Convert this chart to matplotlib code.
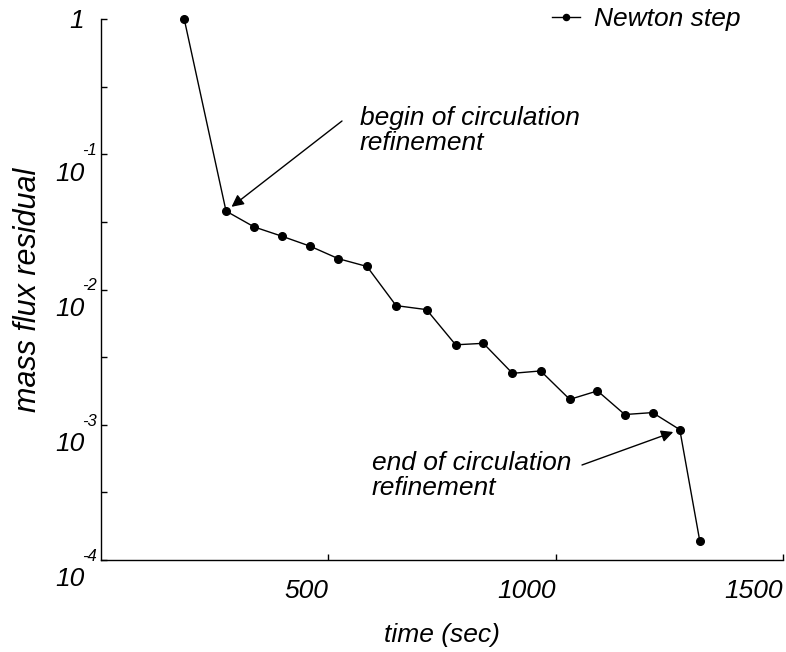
import numpy as np
import matplotlib
matplotlib.use('Agg')
import matplotlib.pyplot as plt
from matplotlib.ticker import FixedLocator, FuncFormatter, NullFormatter
from matplotlib.transforms import ScaledTranslation, blended_transform_factory

# residual after each Newton step
time_sec = [183, 275, 337, 399, 460, 522, 585, 649, 716, 780,
            841, 905, 967, 1031, 1092, 1152, 1213, 1273, 1317]
residual = [1.0, 0.038, 0.029, 0.0247, 0.0209, 0.0169, 0.0148, 0.0076, 0.0071, 0.0039,
            0.0040, 0.0024, 0.0025, 0.00154, 0.00178, 0.00119, 0.00123, 0.00092, 0.000138]

x_ticks = [500, 1000, 1500]
y_ticks = [1e-4, 1e-3, 1e-2, 1e-1, 1]
y_minor = [10 ** -3.5, 10 ** -2.5, 10 ** -1.5, 10 ** -0.5]

plt.rcParams['font.family'] = ['Liberation Sans', 'DejaVu Sans']
plt.rcParams['font.style'] = 'italic'
plt.rcParams['font.size'] = 19

fig = plt.figure(figsize=(7.86, 6.52), dpi=100)
ax = fig.add_axes([101 / 786, 1 - 560 / 652, 682 / 786, 541 / 652])

ax.plot(time_sec, residual, color='black', lw=1.0, marker='o', markersize=5.5,
        label='Newton step', clip_on=False, zorder=3)

ax.set_yscale('log')
ax.set_xlim(0, 1500)
ax.set_ylim(1e-4, 1)

ax.spines['top'].set_visible(False)
ax.spines['right'].set_visible(False)
for s in ('left', 'bottom'):
    ax.spines[s].set_linewidth(1.0)

ax.xaxis.set_major_locator(FixedLocator(x_ticks))
ax.yaxis.set_major_locator(FixedLocator(y_ticks))
ax.yaxis.set_minor_locator(FixedLocator(y_minor))
ax.yaxis.set_minor_formatter(NullFormatter())
ax.xaxis.set_minor_locator(FixedLocator([]))

# mantissa as the tick label, exponent drawn as a small raised text
ax.yaxis.set_major_formatter(FuncFormatter(lambda v, pos: '1' if v >= 1 else '10'))
ax.tick_params(axis='both', which='both', direction='in', length=4.5, width=1.0)
ax.tick_params(axis='x', pad=14)
ax.tick_params(axis='y', pad=12)

for lab in ax.get_xticklabels():
    lab.set_horizontalalignment('right')

down = ScaledTranslation(0, -0.17, fig.dpi_scale_trans)
for lab in ax.get_yticklabels()[:-1]:
    lab.set_transform(lab.get_transform() + down)

ytrans = blended_transform_factory(ax.transAxes, ax.transData)
for v in y_ticks[:-1]:
    ax.text(-4 / 682, v, '%d' % int(round(np.log10(v))), fontsize=12,
            ha='right', va='bottom', clip_on=False,
            transform=ytrans + ScaledTranslation(0, -0.04, fig.dpi_scale_trans))

ax.set_xlabel('time (sec)', labelpad=14)
ax.set_ylabel('mass flux residual', fontsize=22)
ax.yaxis.set_label_coords(-0.085, 0.5)

ax.legend(loc='center left', bbox_to_anchor=(552 / 786, 1 - 19 / 652),
          bbox_transform=fig.transFigure, frameon=False, borderpad=0,
          borderaxespad=0, handlelength=1.05, handletextpad=0.55, markerscale=0.8)

arrow = dict(arrowstyle='-|>', color='black', lw=1.0, shrinkA=0, shrinkB=5,
             mutation_scale=18)
ax.annotate('', xy=(time_sec[1], residual[1]), xytext=(342, 652 - 121),
            textcoords='figure pixels', arrowprops=arrow)
ax.annotate('', xy=(time_sec[-2], residual[-2]), xytext=(582, 652 - 465),
            textcoords='figure pixels', arrowprops=arrow)

fig.text(360 / 786, 1 - 106 / 652, 'begin of circulation\nrefinement',
         ha='left', va='top', linespacing=1.05)
fig.text(372 / 786, 1 - 451 / 652, 'end of circulation\nrefinement',
         ha='left', va='top', linespacing=1.05)

fig.savefig('out.png', dpi=100)
